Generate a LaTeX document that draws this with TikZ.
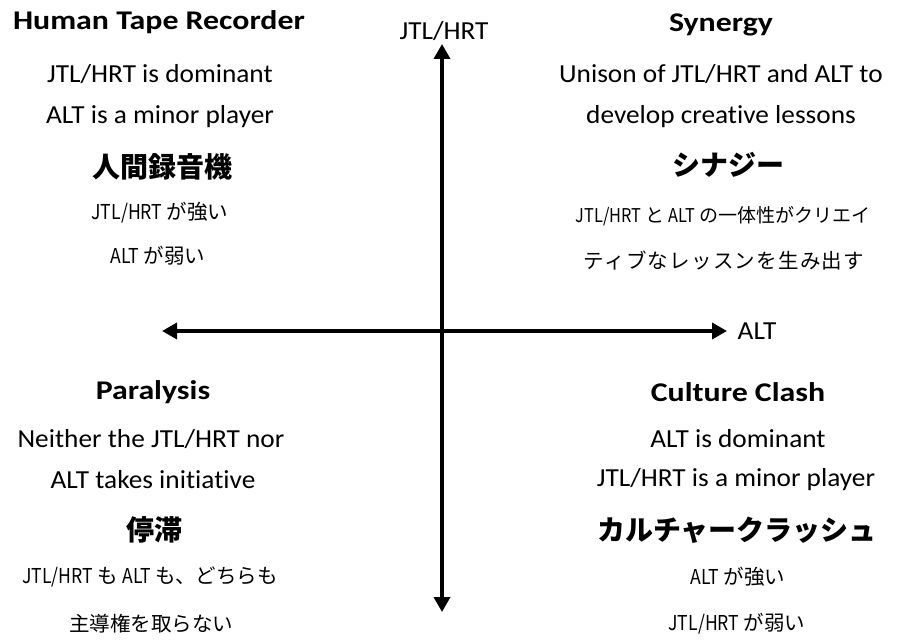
\documentclass[tikz,border=0pt]{standalone}
\usepackage{fontspec}
\setmainfont{Carlito}[FakeStretch=1.05,Ligatures=NoCommon]
\newfontfamily\enboldfam{Carlito}[FakeStretch=1.18,Ligatures=NoCommon]
\newfontfamily\jp{Noto Sans CJK JP}
\newcommand\narrowlat[1]{{\addfontfeature{FakeStretch=0.86}#1}}
\usetikzlibrary{arrows.meta}
\tikzset{
  en/.style={font=\fontsize{26}{30}\selectfont, inner sep=0pt, anchor=center},
  enhead/.style={font=\enboldfam\fontsize{27}{31}\selectfont\bfseries, inner sep=0pt, anchor=center},
  jphead/.style={font=\jp\fontsize{28}{32}\selectfont\bfseries, inner sep=0pt, anchor=center},
  jptext/.style={font=\jp\fontsize{20.5}{24}\selectfont, inner sep=0pt, anchor=center},
  axis/.style={line width=3.5pt, {Triangle[length=15pt,width=16pt]}-{Triangle[length=15pt,width=16pt]}},
}
\begin{document}
\begin{tikzpicture}[x=1pt,y=-1pt]
\useasboundingbox (0,0) rectangle (904,644);
% axes
\coordinate (vtop) at (442,44);
\coordinate (vbot) at (442,612);
\coordinate (hleft) at (162,331);
\coordinate (hright) at (727,331);
\draw[axis] (vtop) -- (vbot);
\draw[axis] (hleft) -- (hright);
\node[en] (ylab) at (444,31) {JTL/HRT};
\node[en] (xlab) at (757,331) {ALT};
% top-left
\node[enhead] (tl1) at (159,22) {Human Tape Recorder};
\node[en] (tl2) at (160,74) {JTL/HRT is dominant};
\node[en] (tl3) at (160,117) {ALT is a minor player};
\node[jphead] (tl4) at (162,167) {人間録音機};
\node[jptext] (tl5) at (160,213) {\narrowlat{JTL/HRT} が強い};
\node[jptext] (tl6) at (158,256) {\narrowlat{ALT} が弱い};
% top-right
\node[enhead] (tr1) at (721,25) {Synergy};
\node[en] (tr2) at (721,74) {Unison of JTL/HRT and ALT to};
\node[en] (tr3) at (721,117) {develop creative lessons};
\node[jphead] (tr4) at (728,165) {シナジー};
\node[jptext, font=\jp\fontsize{19}{24}\selectfont] (tr5) at (723,216) {\narrowlat{JTL/HRT} と \narrowlat{ALT} の一体性がクリエイ};
\node[jptext] (tr6) at (724,261) {\addfontfeature{LetterSpace=6}ティブなレッスンを生み出す};
% bottom-left
\node[enhead] (bl1) at (153,392) {Paralysis};
\node[en] (bl2) at (151,439) {Neither the JTL/HRT nor};
\node[en] (bl3) at (153,480) {ALT takes initiative};
\node[jphead] (bl4) at (154,530) {停滞};
\node[jptext] (bl5) at (150,577) {\narrowlat{JTL/HRT} も \narrowlat{ALT} も、どちらも};
\node[jptext] (bl6) at (151,624) {主導権を取らない};
% bottom-right
\node[enhead] (br1) at (738,392) {Culture Clash};
\node[en] (br2) at (738,439) {ALT is dominant};
\node[en] (br3) at (736,480) {JTL/HRT is a minor player};
\node[jphead] (br4) at (737,530) {カルチャークラッシュ};
\node[jptext] (br5) at (738,577) {\narrowlat{ALT} が強い};
\node[jptext] (br6) at (737,624) {\narrowlat{JTL/HRT} が弱い};
\end{tikzpicture}
\end{document}
